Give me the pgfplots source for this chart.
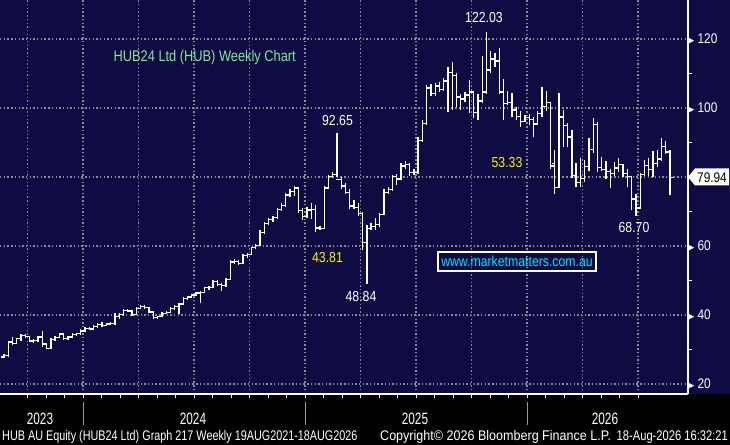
\documentclass[border=0pt]{standalone}
\usepackage{pgfplots}
\pgfplotsset{compat=1.18}
\usepackage{pgfplotstable}
\usepackage{fontspec}
\setmainfont{Liberation Sans}
\newfontfamily\cond[FakeStretch=0.85]{Liberation Sans}
\newfontfamily\ttl[FakeStretch=0.83]{Liberation Sans}
\newfontfamily\bbg[FakeStretch=0.72]{Liberation Sans}
\newfontfamily\dejavu{DejaVu Sans}
\definecolor{navy}{RGB}{14,12,66}
\definecolor{ttlgreen}{RGB}{130,232,150}
\definecolor{webcyan}{RGB}{0,224,255}
\definecolor{gridgray}{RGB}{140,140,150}
\pgfdeclareplotmark{otick}{\pgfpathmoveto{\pgfqpoint{-3.2bp}{0pt}}\pgfpathlineto{\pgfqpoint{0.6bp}{0pt}}\pgfusepathqstroke}
\pgfdeclareplotmark{ctick}{\pgfpathmoveto{\pgfqpoint{-0.6bp}{0pt}}\pgfpathlineto{\pgfqpoint{3.2bp}{0pt}}\pgfusepathqstroke}
\pgfplotstableread{
i o h l c
0 27.8 28.6 27.4 28.2
1 28.2 32.6 27.8 32.2
2 32.2 33.6 31.4 31.8
3 31.8 33.4 31.6 33.1
4 33.1 34.4 32.6 34.1
5 34.1 34.6 33.4 33.7
6 33.7 33.9 32.2 32.5
7 32.5 33.0 31.8 32.6
8 32.6 34.0 32.3 33.6
9 33.6 35.4 30.8 31.6
10 31.6 31.9 30.0 30.3
11 30.3 33.2 30.1 32.9
12 32.9 33.8 32.6 33.4
13 33.4 34.9 33.2 34.5
14 34.5 34.7 32.8 33.1
15 33.1 33.9 32.8 33.6
16 33.6 34.8 33.4 34.4
17 34.4 34.9 33.9 34.6
18 34.6 35.8 34.3 35.4
19 35.4 36.4 35.1 36.1
20 36.1 36.5 35.6 35.9
21 35.9 37.0 35.7 36.7
22 36.7 37.6 36.3 37.2
23 37.2 37.9 36.6 37.0
24 37.0 37.8 36.7 37.4
25 37.4 37.9 37.0 37.5
26 37.5 40.6 37.2 39.6
27 39.6 40.5 38.8 40.2
28 40.2 41.6 39.8 41.3
29 41.3 41.8 40.8 41.2
30 41.2 41.4 39.8 40.1
31 40.1 42.2 39.9 41.9
32 41.9 42.8 41.6 42.4
33 42.4 42.9 41.8 42.1
34 42.1 42.3 40.6 40.9
35 40.9 41.0 38.8 39.2
36 39.2 39.8 38.9 39.5
37 39.5 40.8 39.3 40.5
38 40.5 41.2 40.2 40.8
39 40.8 42.2 40.6 41.9
40 41.9 42.8 41.5 42.4
41 42.4 43.6 40.4 43.2
42 43.2 45.2 43.0 44.8
43 44.8 45.6 44.4 45.2
44 45.2 46.2 44.9 45.8
45 45.8 46.8 45.5 46.4
46 46.4 46.9 43.6 46.6
47 46.6 48.2 46.3 47.9
48 47.9 48.4 47.2 48.0
49 48.0 50.2 47.8 49.8
50 49.8 50.0 48.5 48.9
51 48.9 49.4 46.9 48.6
52 48.6 50.6 48.2 50.2
53 50.2 56.0 50.0 55.4
54 55.4 56.2 54.8 55.6
55 55.6 56.0 54.4 55.0
56 55.0 57.6 54.8 57.2
57 57.2 58.0 56.6 57.6
58 57.6 59.8 57.4 59.5
59 59.5 60.6 59.0 60.2
60 60.2 64.5 60.0 64.0
61 64.0 67.0 63.6 66.6
62 66.6 68.0 66.2 67.6
63 67.6 68.6 67.0 68.2
64 68.2 71.0 67.8 70.6
65 70.6 72.4 70.0 71.8
66 71.8 75.4 71.4 74.8
67 74.8 76.6 74.2 75.8
68 75.8 77.5 74.6 76.8
69 76.8 77.0 69.6 70.2
70 70.2 71.0 67.6 68.6
71 68.6 71.2 68.2 70.4
72 70.4 72.6 67.8 70.6
73 70.6 71.8 64.0 65.2
74 65.2 65.8 64.6 65.0
75 65.0 77.4 64.8 76.8
76 76.8 80.6 76.4 80.2
77 80.2 81.4 79.6 80.8
78 80.8 92.65 80.0 79.2
79 79.2 80.0 76.4 77.4
80 77.4 78.2 75.0 75.6
81 75.6 76.4 70.8 71.6
82 71.6 73.4 70.6 71.2
83 71.2 72.5 68.8 69.4
84 69.4 69.8 58.8 61.0
85 61.0 66.0 48.84 65.0
86 65.0 66.6 64.6 65.6
87 65.6 68.0 64.6 66.2
88 66.2 69.6 65.6 69.2
89 69.2 76.4 69.0 75.6
90 75.6 77.0 75.0 76.4
91 76.4 80.6 76.0 80.2
92 80.2 80.8 77.8 79.4
93 79.4 84.0 79.0 83.2
94 83.2 84.6 82.4 83.6
95 83.6 84.0 80.4 81.2
96 81.2 82.2 80.6 81.4
97 81.4 91.6 81.0 90.6
98 90.6 96.4 90.0 95.6
99 95.6 106.6 95.0 105.8
100 105.8 107.0 103.4 104.2
101 104.2 107.2 103.6 106.4
102 106.4 107.4 104.6 105.4
103 105.4 108.6 105.0 107.8
104 107.8 111.8 98.8 110.2
105 110.2 113.2 99.4 109.4
106 109.4 110.0 100.4 103.2
107 103.2 104.0 99.4 102.6
108 102.6 104.6 101.6 103.8
109 103.8 108.0 98.6 104.6
110 104.6 105.0 97.2 98.6
111 98.6 104.0 96.6 102.0
112 102.0 115.0 101.4 104.6
113 104.6 122.03 104.0 111.0
114 111.0 116.4 110.0 114.2
115 114.2 116.0 112.0 113.6
116 113.6 117.4 104.0 104.6
117 104.6 108.4 96.6 101.4
118 101.4 104.8 101.0 101.6
119 101.6 104.4 97.4 99.4
120 99.4 100.2 96.6 97.6
121 97.6 99.0 94.4 96.0
122 96.0 98.0 95.8 97.2
123 97.2 98.2 95.0 96.6
124 96.6 97.4 91.6 95.4
125 95.4 99.0 95.0 98.4
126 98.4 106.2 97.4 100.4
127 100.4 104.8 99.0 101.6
128 101.6 101.8 82.4 83.2
129 84.0 87.8 75.0 77.0
130 77.0 104.3 76.8 97.4
131 97.4 99.4 88.6 95.0
132 95.0 95.6 88.6 91.6
133 91.6 93.6 79.6 80.4
134 80.4 84.0 77.0 78.4
135 78.4 85.6 77.0 79.6
136 79.6 85.0 78.6 83.0
137 83.0 91.4 81.6 88.0
138 88.0 97.0 87.0 95.2
139 95.2 96.0 81.4 82.8
140 82.8 85.8 81.6 82.2
141 82.2 84.6 79.4 81.6
142 81.6 82.4 76.8 81.0
143 81.0 84.4 80.4 82.6
144 82.6 85.6 81.4 83.6
145 83.6 83.6 80.0 81.0
146 81.0 82.4 77.2 80.2
147 80.2 80.4 70.4 73.6
148 73.6 75.0 68.7 71.0
149 71.0 81.2 70.8 80.8
150 80.8 84.8 80.2 83.4
151 83.4 85.6 80.2 82.2
152 82.2 87.6 80.0 84.0
153 84.0 87.8 83.0 85.2
154 85.2 91.4 84.6 88.8
155 88.8 90.4 86.8 87.2
156 87.2 87.8 74.8 79.94
}\ohlc
\begin{document}
\begin{tikzpicture}
\path[use as bounding box] (0,0) rectangle (730bp,445bp);
\fill[black] (0,0) rectangle (730bp,445bp);
\fill[navy] (0,51bp) rectangle (730bp,445bp);
\begin{axis}[
  at={(0bp,51bp)}, anchor=south west, scale only axis,
  width=688bp, height=394bp,
  xmin=-0.913, xmax=160.2, ymin=17.1, ymax=131.3,
  axis x line*=bottom, axis y line*=right,
  axis line style={white, line width=1.2bp},
  xtick={5.53,18.53,...,148.53}, xticklabel=\empty, minor x tick num=2,
  ytick={20,40,60,100,120}, minor ytick={30,50,...,110},
  extra y ticks={80}, extra y tick labels={},
  extra y tick style={major tick length=0pt, grid=major},
  tick align=outside, major tick length=4bp, minor tick length=4bp,
  tick style={white, line width=0.9bp},
  major y tick style={draw=none},
  grid=major,
  major grid style={gridgray, line width=1.4bp, dash pattern=on 1.4bp off 2.3bp},
  yticklabel={\makebox[10bp][l]{\dejavu\fontsize{9}{9}\selectfont ▶}\cond\fontsize{14}{14}\selectfont\pgfmathtruncatemacro\tv{\tick}\tv},
  yticklabel style={anchor=west, inner sep=0pt, xshift=-4.6bp, text=white},
]
\addplot[white, line width=1.3bp, mark=none, quiver={u=0, v=\thisrow{l}-\thisrow{h}}] table[x=i, y=h] {\ohlc};
\addplot[white, only marks, mark=otick, mark options={line width=1.3bp}] table[x=i, y=o] {\ohlc};
\addplot[white, only marks, mark=ctick, mark options={line width=1.3bp}] table[x=i, y=c] {\ohlc};
\end{axis}
\begin{scope}[x=1bp, y=-1bp, yshift=445bp]
  % current price tag
  \fill[white] (688,177) -- (695,185.5) -- (729,185.5) -- (729,168.5) -- (695,168.5) -- cycle;
  \node[text=black, font=\cond\fontsize{14}{14}\selectfont, inner sep=0pt] at (712,177.5) {79.94};
  % annotations
  \node[text=white, font=\cond\fontsize{14.5}{15}\selectfont, inner sep=0pt] at (484,18) {122.03};
  \node[text=white, font=\cond\fontsize{14.5}{15}\selectfont, inner sep=0pt] at (337.5,120.5) {92.65};
  \node[text=yellow, font=\cond\fontsize{14.5}{15}\selectfont, inner sep=0pt] at (327.5,258) {43.81};
  \node[text=white, font=\cond\fontsize{14.5}{15}\selectfont, inner sep=0pt] at (361,297) {48.84};
  \node[text=yellow, font=\cond\fontsize{14.5}{15}\selectfont, inner sep=0pt] at (507,163) {53.33};
  \node[text=white, font=\cond\fontsize{14.5}{15}\selectfont, inner sep=0pt] at (634,228) {68.70};
  \node[text=ttlgreen, font=\ttl\fontsize{15.5}{16}\selectfont, inner sep=0pt] at (204.7,58) {HUB24 Ltd (HUB) Weekly Chart};
  \node[draw=white, line width=1.1bp, text=webcyan, font=\cond\fontsize{14.5}{15}\selectfont,
        minimum width=158bp, minimum height=19bp, inner sep=0pt] at (517,261.5) {www.marketmatters.com.au};
  % year labels and separators
  \foreach \xx in {83,305,527} \draw[gray!80, line width=0.9bp] (\xx,402) -- (\xx,425);
  \node[text=white, font=\bbg\fontsize{16.5}{16.5}\selectfont, inner sep=0pt] at (40,419) {2023};
  \node[text=white, font=\bbg\fontsize{16.5}{16.5}\selectfont, inner sep=0pt] at (193,419) {2024};
  \node[text=white, font=\bbg\fontsize{16.5}{16.5}\selectfont, inner sep=0pt] at (415,419) {2025};
  \node[text=white, font=\bbg\fontsize{16.5}{16.5}\selectfont, inner sep=0pt] at (605,419) {2026};
  % footer
  \node[text=white, font=\fontsize{14}{14}\selectfont, inner sep=0pt, anchor=west] at (2,437) {\scalebox{0.776}[1]{HUB AU Equity (HUB24 Ltd) Graph 217 Weekly 19AUG2021-18AUG2026}};
  \node[text=white, font=\fontsize{14}{14}\selectfont, inner sep=0pt, anchor=west] at (380,437) {\scalebox{0.9}[1]{Copyright© 2026 Bloomberg Finance L.P.}};
  \node[text=white, font=\fontsize{14}{14}\selectfont, inner sep=0pt, anchor=east] at (728,437) {\scalebox{0.8}[1]{18-Aug-2026 16:32:21}};
\end{scope}
\end{tikzpicture}
\end{document}
